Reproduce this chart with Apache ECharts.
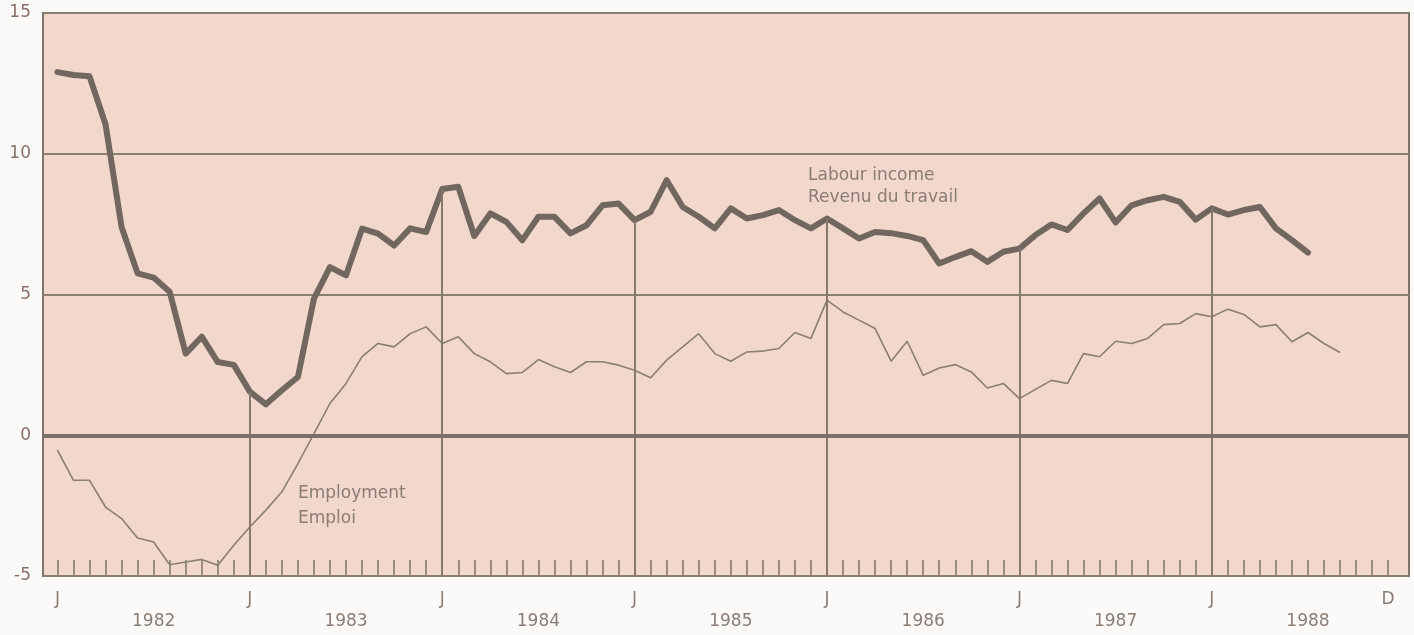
<!DOCTYPE html>
<html>
<head>
<meta charset="utf-8">
<script src="https://cdn.jsdelivr.net/npm/echarts@6/dist/echarts.min.js"></script>
<style>
html,body{margin:0;padding:0;background:#fcfaf8;}
#c{width:1414px;height:635px;}
</style>
</head>
<body>
<div id="c"></div>
<script>
// Month index 0 = January 1982
var incomeValues = [12.9,12.8,12.75,11.05,7.4,5.75,5.6,5.1,2.9,3.5,2.6,2.5,
  1.55,1.1,1.6,2.07,4.85,5.97,5.68,7.34,7.16,6.74,7.35,7.22,
  8.75,8.83,7.08,7.88,7.58,6.93,7.76,7.76,7.17,7.46,8.17,8.23,
  7.64,7.94,9.06,8.11,7.76,7.35,8.06,7.7,7.82,8.0,7.64,7.35,
  7.7,7.35,6.99,7.22,7.18,7.08,6.93,6.1,6.33,6.54,6.16,6.52,
  6.63,7.11,7.49,7.29,7.88,8.41,7.56,8.17,8.35,8.47,8.29,7.66,
  8.06,7.84,8.0,8.11,7.35,6.93,6.49];
var employmentValues = [-0.53,-1.6,-1.6,-2.55,-2.96,-3.65,-3.79,-4.6,-4.5,-4.41,-4.62,-3.91,
  -3.26,-2.66,-2.01,-1.01,0.06,1.13,1.84,2.79,3.26,3.14,3.61,3.85,
  3.26,3.5,2.9,2.61,2.19,2.23,2.69,2.43,2.23,2.61,2.61,2.49,
  2.31,2.04,2.67,3.14,3.61,2.9,2.63,2.96,2.99,3.08,3.65,3.44,
  4.8,4.38,4.09,3.79,2.63,3.34,2.13,2.39,2.51,2.25,1.68,1.84,
  1.3,1.63,1.95,1.84,2.9,2.79,3.34,3.26,3.44,3.93,3.97,4.32,
  4.21,4.48,4.29,3.85,3.93,3.32,3.65,3.26,2.94];
var years = ['1982','1983','1984','1985','1986','1987','1988'];
var monthLabelPositions = [0,12,24,36,48,60,72,83];
var monthLabelTexts = ['J','J','J','J','J','J','J','D'];
var yearJanLines = [12,24,36,48,60,72];
var seriesNames = ['Labour income\nRevenu du travail','Employment\nEmploi'];

var monthTicks = [];
for (var i = 0; i <= 83; i++) monthTicks.push(i);
var yearPositions = years.map(function(y, i){ return 6 + 12*i; });
function pairs(arr){ return arr.map(function(v,i){ return [i, v]; }); }

var FONT = 'DejaVu Sans, Liberation Sans, Arial, sans-serif';
var textColor = '#8a7d76';
var chart = echarts.init(document.getElementById('c'), null, {renderer:'canvas'});
var janLines = yearJanLines.map(function(m){
  return [{coord:[m, -5]}, {coord:[m, incomeValues[m]]}];
});
chart.setOption({
  animation:false,
  backgroundColor:'#fcfaf8',
  grid:{left:43,top:13,right:5,bottom:59,show:true,backgroundColor:'#f2d7cd',
        borderColor:'#7f746a',borderWidth:2},
  xAxis:[{
    type:'value', min:-0.9, max:84.3, position:'bottom',
    axisLine:{show:false, onZero:false},
    splitLine:{show:false},
    axisTick:{show:true, inside:true, length:16, customValues:monthTicks,
              lineStyle:{color:'#7f746a', width:1.5}},
    axisLabel:{show:true, customValues:monthLabelPositions, margin:15,
      color:textColor, fontSize:17, fontFamily:FONT,
      formatter:function(v){ var k = monthLabelPositions.indexOf(v); return k>=0 ? monthLabelTexts[k] : ''; }}
  },{
    type:'value', min:-0.9, max:84.3, position:'bottom',
    axisLine:{show:false, onZero:false}, axisTick:{show:false}, splitLine:{show:false},
    axisLabel:{show:true, customValues:yearPositions, margin:37,
      color:textColor, fontSize:17, fontFamily:FONT,
      formatter:function(v){ var k = yearPositions.indexOf(v); return k>=0 ? years[k] : ''; }}
  }],
  yAxis:{
    type:'value', min:-5, max:15, interval:5,
    axisLine:{show:false}, axisTick:{show:false},
    axisLabel:{color:'#8c7068', fontSize:17, margin:12, fontFamily:FONT},
    splitLine:{show:true, lineStyle:{color:'#8a7e72', width:2}}
  },
  series:[{
    name:seriesNames[1], type:'line', data:pairs(employmentValues), xAxisIndex:0,
    showSymbol:false, symbol:'none', z:3,
    lineStyle:{color:'#8a7e76', width:1.6},
    markLine:{silent:true, symbol:'none', label:{show:false},
      lineStyle:{color:'#85796f', width:2, type:'solid'},
      data: janLines.concat([{yAxis:0, lineStyle:{width:4, color:'#7b7067'}}])}
  },{
    name:seriesNames[0], type:'line', data:pairs(incomeValues), xAxisIndex:0,
    showSymbol:false, symbol:'none', z:4,
    lineStyle:{color:'#72675f', width:6, join:'round', cap:'round'}
  }],
  graphic:[
    {type:'text', left:808, top:165, z:10, style:{text:seriesNames[0], fill:textColor,
      font:'17px "DejaVu Sans", sans-serif', lineHeight:22}},
    {type:'text', left:298, top:481, z:10, style:{text:seriesNames[1], fill:textColor,
      font:'17px "DejaVu Sans", sans-serif', lineHeight:25}}
  ]
});
</script>
</body>
</html>
